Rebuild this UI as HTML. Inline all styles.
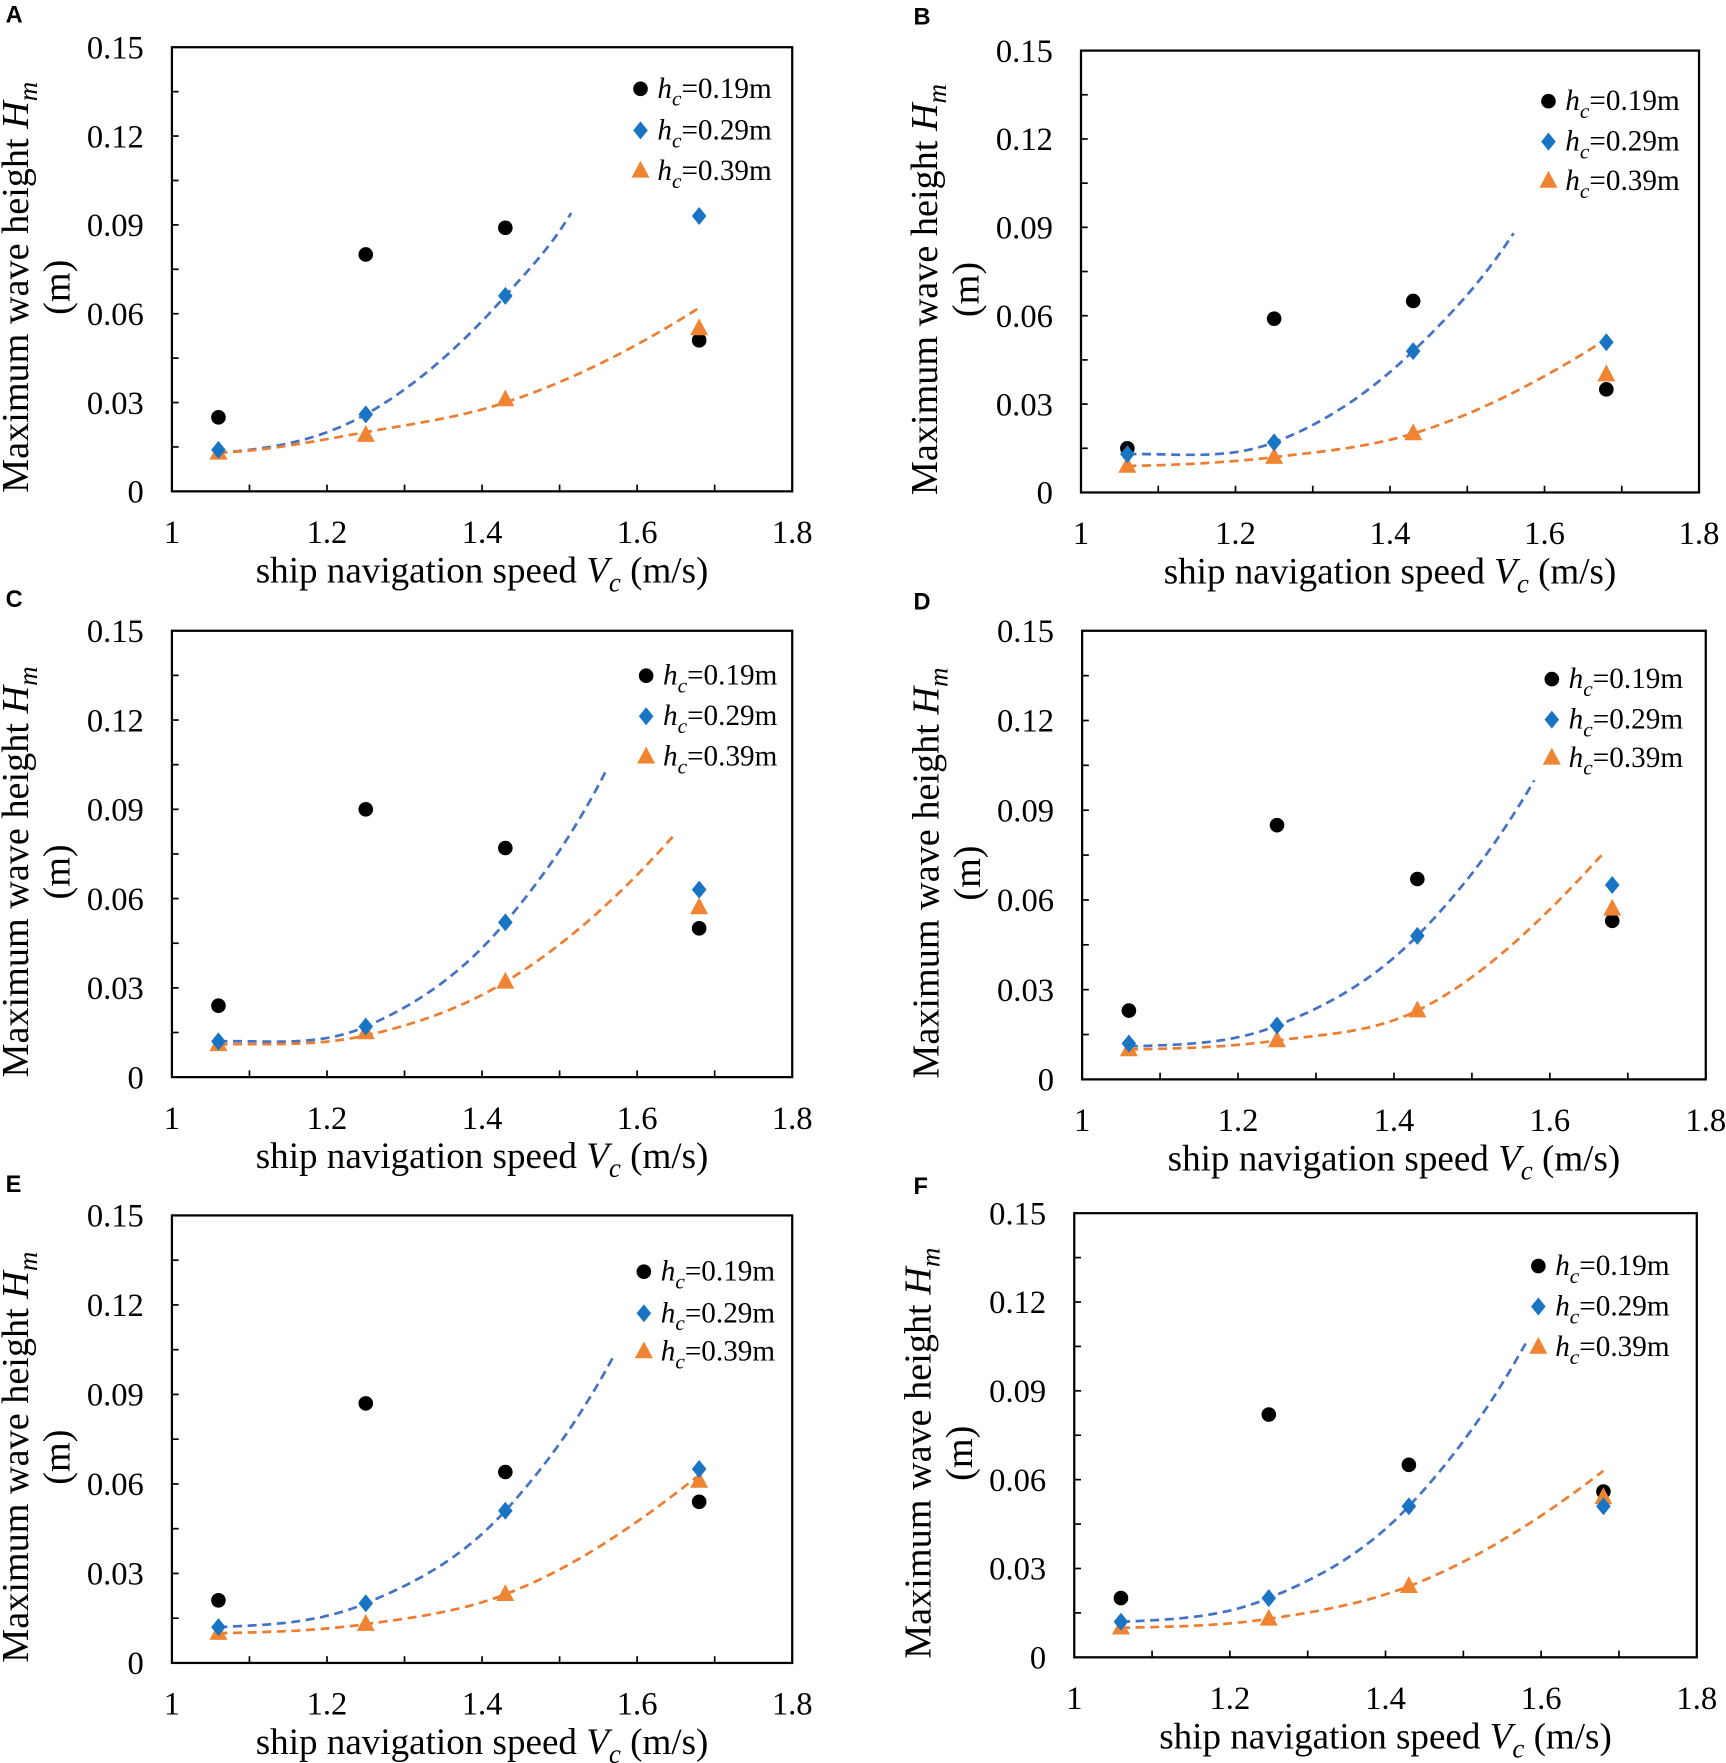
<!DOCTYPE html>
<html><head><meta charset="utf-8"><style>
html,body{margin:0;padding:0;background:#fff}
svg{display:block}
</style></head><body>
<svg id="s" width="1726" height="1763" viewBox="0 0 1536 1568" preserveAspectRatio="none" xmlns="http://www.w3.org/2000/svg" font-family="Liberation Serif, serif"></svg>
<script>
const P=[
{L:'A',lx:5,ly:20,x0:153,x1:705,y0:42,y1:437,lgx:570,lgy:[79,116,152],
 k:[.025,.080,.089,.051],b:[.014,.026,.066,.093],o:[.013,.019,.031,.055],
 bc:[[1.06,.013],[1.25,.026],[1.43,.066],[1.515,.094]],oc:[[1.06,.013],[1.25,.020],[1.43,.030],[1.68,.062]]},
{L:'B',lx:813,ly:22,x0:962,x1:1512,y0:45,y1:438,lgx:1378,lgy:[90,126,161],
 k:[.015,.059,.065,.035],b:[.013,.017,.048,.051],o:[.009,.012,.020,.040],
 bc:[[1.06,.013],[1.25,.017],[1.43,.048],[1.56,.088]],oc:[[1.06,.009],[1.25,.012],[1.43,.020],[1.68,.052]]},
{L:'C',lx:5,ly:540,x0:153,x1:705,y0:561,y1:958,lgx:575,lgy:[601,637,673],
 k:[.024,.090,.077,.050],b:[.012,.017,.052,.063],o:[.011,.015,.032,.057],
 bc:[[1.06,.012],[1.25,.017],[1.43,.052],[1.56,.103]],oc:[[1.06,.011],[1.25,.014],[1.43,.032],[1.65,.082]]},
{L:'D',lx:813,ly:542,x0:963,x1:1518,y0:561,y1:960,lgx:1381,lgy:[604,640,674],
 k:[.023,.085,.067,.053],b:[.012,.018,.048,.065],o:[.010,.013,.023,.057],
 bc:[[1.06,.011],[1.25,.018],[1.43,.048],[1.58,.100]],oc:[[1.06,.010],[1.25,.013],[1.43,.023],[1.67,.076]]},
{L:'E',lx:5,ly:1060,x0:153,x1:705,y0:1081,y1:1479,lgx:573,lgy:[1131,1168,1202],
 k:[.021,.087,.064,.054],b:[.012,.020,.051,.065],o:[.010,.013,.023,.061],
 bc:[[1.06,.012],[1.25,.020],[1.43,.051],[1.57,.103]],oc:[[1.06,.010],[1.25,.013],[1.43,.023],[1.68,.063]]},
{L:'F',lx:813,ly:1062,x0:956,x1:1510,y0:1079,y1:1474,lgx:1369,lgy:[1126,1162,1198],
 k:[.020,.082,.065,.056],b:[.012,.020,.051,.051],o:[.010,.013,.024,.054],
 bc:[[1.06,.012],[1.25,.020],[1.43,.051],[1.58,.106]],oc:[[1.06,.010],[1.25,.013],[1.43,.024],[1.68,.063]]}
];
const X=[1.06,1.25,1.43,1.68];
let h='';
function mono(pts){const n=pts.length,xs=pts.map(p=>p[0]),ys=pts.map(p=>p[1]);const d=[],m=[];
 for(let i=0;i<n-1;i++)d.push((ys[i+1]-ys[i])/(xs[i+1]-xs[i]));
 m[0]=d[0]*0.3;m[n-1]=d[n-2]*1.3;
 for(let i=1;i<n-1;i++){const h0=xs[i]-xs[i-1],h1=xs[i+1]-xs[i];m[i]=(d[i-1]*h1+d[i]*h0)/(h0+h1);}
 return x=>{let i=0;while(i<n-2&&x>xs[i+1])i++;const hh=xs[i+1]-xs[i],t=(x-xs[i])/hh;
  const h00=2*t*t*t-3*t*t+1,h10=t*t*t-2*t*t+t,h01=-2*t*t*t+3*t*t,h11=t*t*t-t*t;
  return h00*ys[i]+h10*hh*m[i]+h01*ys[i+1]+h11*hh*m[i+1];};}
function dia(x,y,c){return `<path d="M${x},${y-8}L${x+6.5},${y}L${x},${y+8}L${x-6.5},${y}Z" fill="${c}"/>`;}
function tri(x,y,c){return `<path d="M${x},${y-9}L${x+8},${y+6}L${x-8},${y+6}Z" fill="${c}"/>`;}
const BL='#1a74c4',OR='#ef8433',BLL='#4472c4',ORL='#ed7d31';
for(const p of P){
 const sx=v=>p.x0+(v-1)/0.8*(p.x1-p.x0), sy=v=>p.y1-v/0.15*(p.y1-p.y0);
 h+=`<text x="${p.lx}" y="${p.ly}" font-family="Liberation Sans, sans-serif" font-weight="bold" font-size="21">${p.L}</text>`;
 h+=`<rect x="${p.x0}" y="${p.y0}" width="${p.x1-p.x0}" height="${p.y1-p.y0}" fill="none" stroke="#000" stroke-width="2"/>`;
 for(let i=1;i<10;i++){const y=sy(i*0.015);h+=`<line x1="${p.x0}" x2="${p.x0+6}" y1="${y}" y2="${y}" stroke="#000" stroke-width="1.5"/>`;}
 for(let i=1;i<8;i++){const x=sx(1+i*0.1);h+=`<line x1="${x}" x2="${x}" y1="${p.y1}" y2="${p.y1-6}" stroke="#000" stroke-width="1.5"/>`;}
 ['0','0.03','0.06','0.09','0.12','0.15'].forEach((t,i)=>{h+=`<text x="${p.x0-25}" y="${sy(i*0.03)+10}" font-size="29" text-anchor="end">${t}</text>`;});
 ['1','1.2','1.4','1.6','1.8'].forEach((t,i)=>{h+=`<text x="${sx(1+i*0.2)}" y="${p.y1+46}" font-size="29" text-anchor="middle">${t}</text>`;});
 const cx=(p.x0+p.x1)/2;
 h+=`<text x="${cx}" y="${p.y1+81}" font-size="33" text-anchor="middle">ship navigation speed <tspan font-style="italic">V</tspan><tspan font-style="italic" font-size="24" dy="8">c</tspan><tspan dy="-8"> (m/s)</tspan></text>`;
 const cy=(p.y0+p.y1)/2+16, ax=p.x0-128;
 h+=`<text transform="translate(${ax},${cy}) rotate(-90)" font-size="34" text-anchor="middle">Maximum wave height <tspan font-style="italic">H</tspan><tspan font-style="italic" font-size="24" dy="8">m</tspan></text>`;
 h+=`<text transform="translate(${ax+37},${cy}) rotate(-90)" font-size="34" text-anchor="middle">(m)</text>`;
 for(const [pts,col] of [[p.bc,BLL],[p.oc,ORL]]){const f=mono(pts);let d='';const a=pts[0][0],b=pts[3][0];for(let i=0;i<=80;i++){const x=a+(b-a)*i/80;d+=(i?'L':'M')+sx(x).toFixed(1)+','+sy(f(x)).toFixed(1);}h+=`<path d="${d}" fill="none" stroke="${col}" stroke-width="2.4" stroke-dasharray="8,5"/>`;}
 X.forEach((x,i)=>{h+=`<circle cx="${sx(x)}" cy="${sy(p.k[i])}" r="6.5" fill="#000"/>`;});
 X.forEach((x,i)=>{h+=tri(sx(x),sy(p.o[i]),OR);});
 X.forEach((x,i)=>{h+=dia(sx(x),sy(p.b[i]),BL);});
 const labs=['0.19','0.29','0.39'];
 p.lgy.forEach((y,i)=>{const mx=p.lgx;h+= i==0?`<circle cx="${mx}" cy="${y}" r="6.5" fill="#000"/>`: i==1?dia(mx,y,BL):tri(mx,y,OR);
  h+=`<text x="${mx+15}" y="${y+8}" font-size="26"><tspan font-style="italic">h</tspan><tspan font-style="italic" font-size="19" dy="7">c</tspan><tspan dy="-7">=${labs[i]}m</tspan></text>`;});
}
document.getElementById('s').innerHTML=h;
</script>
</body></html>
